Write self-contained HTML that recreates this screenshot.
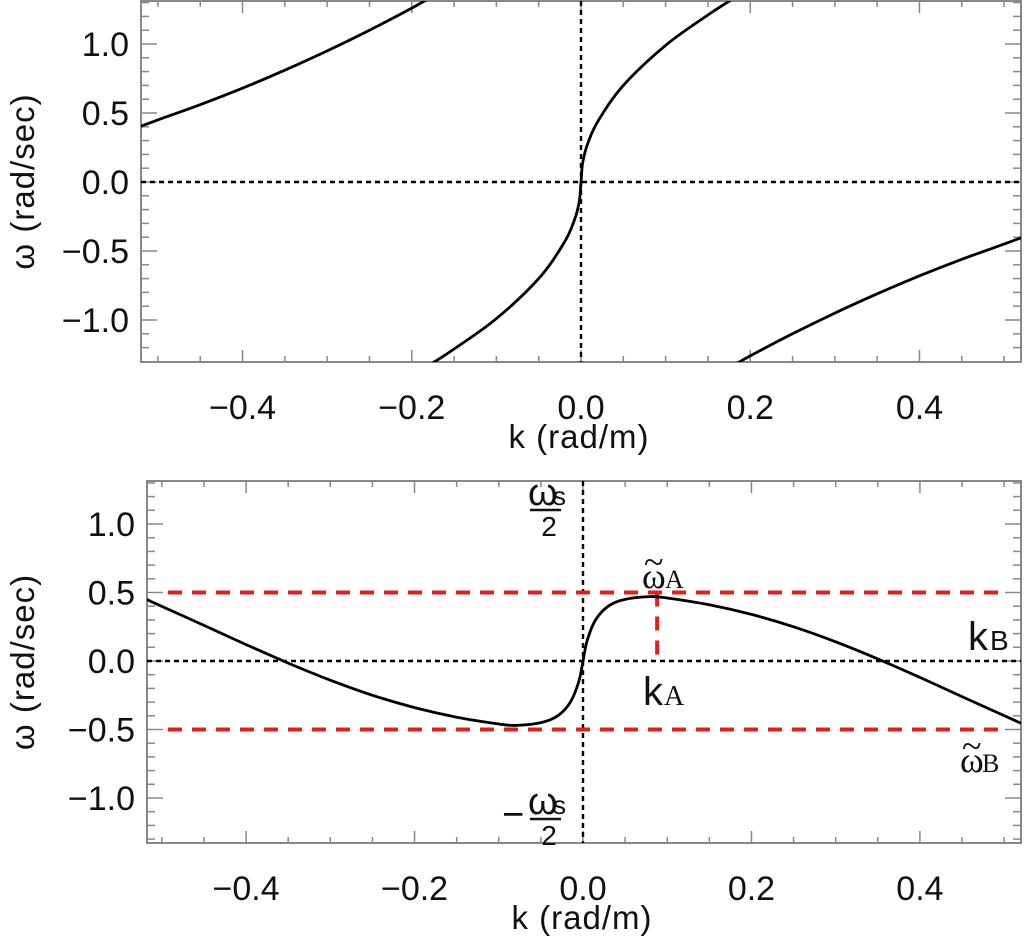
<!DOCTYPE html>
<html><head><meta charset="utf-8">
<style>
html,body{margin:0;padding:0;background:#fff;}
svg{display:block;font-family:"Liberation Sans",sans-serif;}
</style></head>
<body>
<svg id="chart" width="1024" height="943" viewBox="0 0 1024 943" xmlns="http://www.w3.org/2000/svg"></svg>
<script>
// ---- data ----
const topBranch1K = [-0.522,-0.5,-0.45,-0.4,-0.35,-0.3,-0.25,-0.2,-0.18];
const topBranch1W = [0.40,0.45,0.56,0.68,0.81,0.95,1.10,1.26,1.33];
const topBranch2K = [-0.18,-0.15,-0.1,-0.05,-0.02,-0.008,-0.002,0,0.002,0.008,0.02,0.05,0.1,0.15,0.18];
const topBranch2W = [-1.33,-1.21,-0.99,-0.70,-0.44,-0.28,-0.14,0,0.14,0.28,0.44,0.70,0.99,1.21,1.33];
const topBranch3K = [0.18,0.2,0.25,0.3,0.35,0.4,0.45,0.5,0.522];
const topBranch3W = [-1.33,-1.26,-1.10,-0.95,-0.81,-0.68,-0.56,-0.45,-0.40];
const botK = [-0.522,-0.45,-0.4,-0.35,-0.3,-0.25,-0.2,-0.15,-0.1,-0.08,-0.05,-0.03,-0.015,-0.005,0,0.005,0.015,0.03,0.05,0.08,0.1,0.15,0.2,0.25,0.3,0.35,0.4,0.45,0.522];
const botW = [0.46,0.26,0.12,-0.015,-0.14,-0.25,-0.34,-0.41,-0.46,-0.47,-0.45,-0.40,-0.30,-0.15,0,0.15,0.30,0.40,0.45,0.47,0.46,0.41,0.34,0.25,0.14,0.015,-0.12,-0.26,-0.46];
const xTicks = [-0.4,-0.2,0.0,0.2,0.4];
const xTickLabels = ["\u22120.4","\u22120.2","0.0","0.2","0.4"];
const yTicks = [1.0,0.5,0.0,-0.5,-1.0];
const yTickLabels = ["1.0","0.5","0.0","\u22120.5","\u22121.0"];
const redLevels = [0.5,-0.5];
const kA = 0.088;

const NS="http://www.w3.org/2000/svg";
const svgRoot=document.getElementById('chart');
function el(tag,attrs,parent){const e=document.createElementNS(NS,tag);for(const k in attrs)e.setAttribute(k,attrs[k]);(parent||svgRoot).appendChild(e);return e;}

function makePanel(name,L,R,T,B,x0,ySc,yZero){
  const g=el('g',{});
  
  
  const xs=(R-x0)/0.52;
  const X=k=>x0+k*xs;
  const Y=w=>yZero-w*ySc;
  const fr=el('rect',{x:L,y:T,width:R-L,height:B-T,fill:'none',stroke:'#888','stroke-width':2},g);
  
  
  for(let i=-10;i<=10;i++){
    const k=i*0.05; const x=X(k); if(x<L+1||x>R-1)continue;
    const len=(i%4===0)?12:6;
    el('line',{x1:x,y1:B,x2:x,y2:B-len,stroke:'#888','stroke-width':1.5},g);
    el('line',{x1:x,y1:T,x2:x,y2:T+len,stroke:'#888','stroke-width':1.5},g);
  }
  for(let i=-13;i<=13;i++){
    const w=i*0.1; const y=Y(w); if(y<T+1||y>B-1)continue;
    const len=(i%5===0)?16:8;
    el('line',{x1:L,y1:y,x2:L+len,y2:y,stroke:'#888','stroke-width':1.5},g);
    el('line',{x1:R,y1:y,x2:R-len,y2:y,stroke:'#888','stroke-width':1.5},g);
  }
  xTicks.forEach((k,i)=>{
    const t=el('text',{x:X(k),y:B+57,'font-size':34,'text-anchor':'middle',fill:'#111'},g);
    t.textContent=xTickLabels[i];
    
    
  });
  yTicks.forEach((w,i)=>{
    const t=el('text',{x:L-12,y:Y(w)+12,'font-size':34,'text-anchor':'end',fill:'#111'},g);
    t.textContent=yTickLabels[i];
    
    
  });
  const xt=el('text',{x:(L+R)/2-2,y:B+86,'font-size':33,'text-anchor':'middle',fill:'#111','letter-spacing':'1'},g);
  xt.textContent='k (rad/m)';
  
  
  const yt=el('text',{x:0,y:0,'font-size':33,'text-anchor':'middle',fill:'#111',transform:`translate(34,${(T+B)/2}) rotate(-90)`,'letter-spacing':'1'},g);
  yt.textContent='\u03C9 (rad/sec)';
  
  
  const zh=el('line',{x1:L,y1:Y(0),x2:R,y2:Y(0),stroke:'#000','stroke-width':2.4,'stroke-dasharray':'5,4'},g);
  
  
  const zv=el('line',{x1:X(0),y1:T,x2:X(0),y2:B,stroke:'#000','stroke-width':2.4,'stroke-dasharray':'5,4'},g);
  
  
  return {g,X,Y,L,R,T,B};
}
function curve(p,ks,ws,name){
  const pts=ks.map((k,i)=>[p.X(k),p.Y(ws[i])]);
  let d='M'+pts[0][0].toFixed(1)+','+pts[0][1].toFixed(1);
  for(let i=0;i<pts.length-1;i++){
    const p0=pts[Math.max(0,i-1)],p1=pts[i],p2=pts[i+1],p3=pts[Math.min(pts.length-1,i+2)];
    const c1=[p1[0]+(p2[0]-p0[0])/6,p1[1]+(p2[1]-p0[1])/6];
    const c2=[p2[0]-(p3[0]-p1[0])/6,p2[1]-(p3[1]-p1[1])/6];
    d+='C'+c1[0].toFixed(1)+','+c1[1].toFixed(1)+' '+c2[0].toFixed(1)+','+c2[1].toFixed(1)+' '+p2[0].toFixed(1)+','+p2[1].toFixed(1);
  }
  const cp=el('clipPath',{id:'clip-'+name},p.g);
  el('rect',{x:p.L,y:p.T,width:p.R-p.L,height:p.B-p.T},cp);
  const c=el('path',{d,fill:'none',stroke:'#000','stroke-width':2.8,'stroke-linejoin':'round','clip-path':'url(#clip-'+name+')'},p.g);
  
  
}

const topPanel=makePanel('top-panel',141,1021,1,362,581,138,182);
curve(topPanel,topBranch1K,topBranch1W,'branch-left');
curve(topPanel,topBranch2K,topBranch2W,'branch-center');
curve(topPanel,topBranch3K,topBranch3W,'branch-right');

const botPanel=makePanel('bottom-panel',147,1021,481,843,583,137,661);
redLevels.forEach(w=>{
  const r=el('line',{x1:168,y1:botPanel.Y(w),x2:1002,y2:botPanel.Y(w),stroke:'#e0201a','stroke-width':4,'stroke-dasharray':'14,10'},botPanel.g);
  
  
});
const rv=el('line',{x1:botPanel.X(kA),y1:botPanel.Y(0.5),x2:botPanel.X(kA),y2:botPanel.Y(0),stroke:'#e0201a','stroke-width':4,'stroke-dasharray':'14,10'},botPanel.g);


curve(botPanel,botK,botW,'aliased-dispersion-curve');

function label(x,y,txt,size,fam,name,anchor){
  const t=el('text',{x,y,'font-size':size,'font-family':fam||'"Liberation Sans",sans-serif',fill:'#111','text-anchor':anchor||'start'},botPanel.g);
  t.textContent=txt;
  
  
  return t;
}
const serif='"Liberation Serif",serif';
label(528,505,'\u03C9',38,null,'omega-s-numerator');
label(553,505,'s',26,null,'omega-s-subscript');
el('line',{x1:530,y1:510,x2:561,y2:510,stroke:'#111','stroke-width':2.5},botPanel.g);
label(549,536,'2',28,null,'omega-s-denominator','middle');
label(502,827,'\u2212',38,null,'minus-sign');
label(528,814,'\u03C9',38,null,'neg-omega-s-numerator');
label(553,814,'s',26,null,'neg-omega-s-subscript');
el('line',{x1:530,y1:819,x2:561,y2:819,stroke:'#111','stroke-width':2.5},botPanel.g);
label(549,845,'2',28,null,'neg-omega-s-denominator','middle');
label(642,588,'\u03C9',36,serif,'omega-tilde-A');
label(644,574,'~',36,serif,'tilde-A');
label(665,588,'A',26,serif,'omega-A-subscript');
label(643,705,'k',40,null,'kA-label');
label(664,705,'A',28,serif,'kA-subscript');
label(968,650,'k',40,null,'kB-label');
label(990,650,'B',28,null,'kB-subscript');
label(960,772,'\u03C9',36,serif,'omega-tilde-B');
label(962,758,'~',36,serif,'tilde-B');
label(982,772,'B',26,serif,'omega-B-subscript');
</script>
</body></html>
